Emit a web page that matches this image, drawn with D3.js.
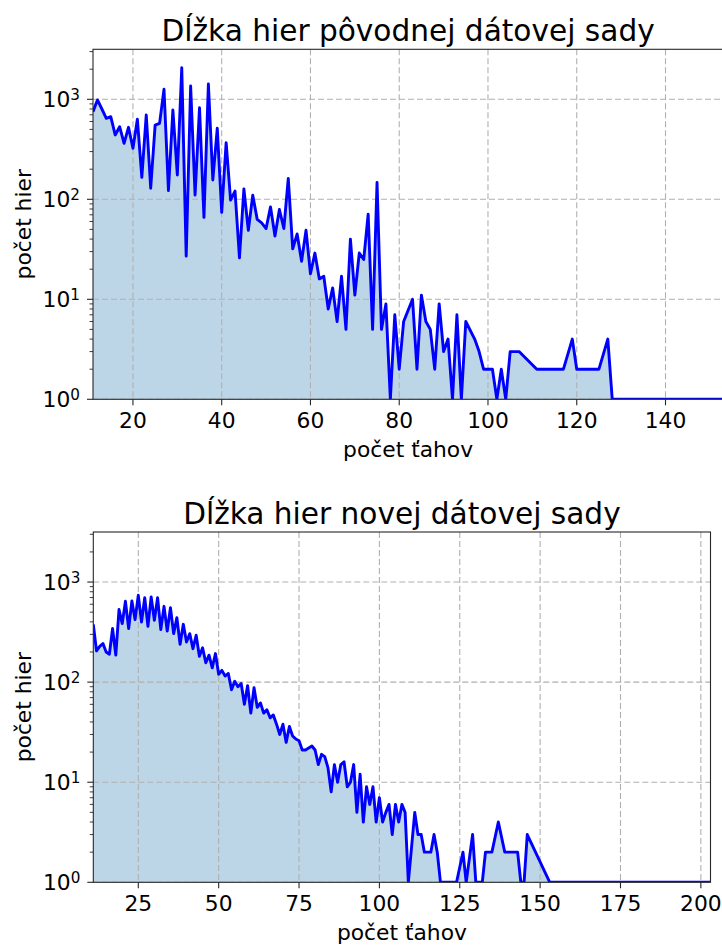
<!DOCTYPE html>
<html>
<head>
<meta charset="utf-8">
<script src="https://cdn.jsdelivr.net/npm/d3@7"></script>
<style>
  body { margin: 0; background: #fff; }
  svg { display: block; font-family: "DejaVu Sans", sans-serif; }
</style>
</head>
<body>
<div id="chart"></div>
<script>
// game length (number of moves) -> number of games
const origLengths = [11, 12, 13, 14, 15, 16, 17, 18, 19, 20, 21, 22, 23, 24, 25, 26, 27, 28, 29, 30,
  31, 32, 33, 34, 35, 36, 37, 38, 39, 40, 41, 42, 43, 44, 45, 46, 47, 48, 49, 50,
  51, 52, 53, 54, 55, 56, 57, 58, 59, 60, 61, 62, 63, 64, 65, 66, 67, 68, 69, 70,
  71, 72, 73, 74, 75, 76, 77, 78, 79, 80, 81, 83, 84, 85, 86, 87, 88, 89, 90, 91,
  92, 93, 94, 95, 97, 98, 99, 100, 101, 102, 103, 104, 105, 106, 107, 111, 117, 119, 120, 125,
  127, 128, 153];
const origCounts = [752, 985, 800, 646, 670, 440, 532, 363, 525, 324, 631, 166, 697, 129, 553, 575, 1260, 122, 782, 175,
  2070, 27, 1358, 110, 824, 66, 1422, 156, 513, 74, 368, 98, 121, 26, 127, 49, 110, 63, 58, 51,
  84, 43, 79, 51, 162, 32, 45, 24, 49, 18, 29, 16, 17, 8, 13, 6, 17, 5, 40, 11,
  29, 25, 71, 5, 147, 5, 9, 1, 7, 2, 6, 10, 2, 11, 6, 5, 2, 9, 3, 4,
  1, 7, 1, 6, 4, 3, 2, 2, 2, 1, 2, 1, 3, 3, 3, 2, 2, 4, 2, 2,
  4, 1, 1];

const newLengths = [11, 12, 13, 14, 15, 16, 17, 18, 19, 20, 21, 22, 23, 24, 25, 26, 27, 28, 29, 30,
  31, 32, 33, 34, 35, 36, 37, 38, 39, 40, 41, 42, 43, 44, 45, 46, 47, 48, 49, 50,
  51, 52, 53, 54, 55, 56, 57, 58, 59, 60, 61, 62, 63, 64, 65, 66, 67, 68, 69, 70,
  71, 72, 73, 74, 75, 76, 77, 78, 79, 80, 81, 82, 83, 84, 85, 86, 87, 88, 89, 90,
  91, 92, 93, 94, 95, 96, 97, 98, 99, 100, 101, 102, 103, 104, 105, 106, 107, 108, 109, 111,
  112, 113, 114, 116, 117, 118, 119, 124, 126, 127, 129, 130, 132, 133, 135, 137, 139, 143, 144, 145,
  146, 153, 171, 203];
const newCounts = [378, 205, 228, 243, 200, 190, 343, 186, 531, 384, 642, 343, 647, 421, 737, 399, 699, 361, 709, 415,
  699, 335, 572, 324, 555, 305, 441, 239, 378, 252, 305, 216, 294, 181, 220, 156, 186, 139, 193, 120,
  131, 115, 122, 84, 102, 90, 97, 60, 92, 49, 88, 56, 62, 49, 53, 44, 47, 38, 30, 38,
  25, 36, 29, 27, 26, 21, 21, 22, 23, 21, 15, 19, 18, 14, 8, 15, 10, 15, 16, 9,
  10, 15, 5, 12, 4, 9, 6, 9, 4, 7, 4, 5, 6, 3, 6, 4, 6, 5, 1, 5,
  3, 3, 2, 2, 3, 2, 1, 1, 2, 1, 3, 1, 1, 2, 2, 4, 2, 2, 1, 1,
  3, 1, 1, 1];

const origTicks = [20, 40, 60, 80, 100, 120, 140];
const newTicks = [25, 50, 75, 100, 125, 150, 175, 200];
const yTicks = [1, 10, 100, 1000];
const yExps = ["0", "1", "2", "3"];

const svg = d3.select("#chart").append("svg")
  .attr("width", 722)
  .attr("height", 945);

function drawPanel(cfg) {
  const { id, title, lengths, counts, ticks, xDomain, box } = cfg;
  const data = lengths.map((len, i) => ({ len: len, count: counts[i] }));

  const x = d3.scaleLinear().domain(xDomain).range([box.left, box.right]);
  const y = d3.scaleLog().domain([1, Math.pow(10, 3.5)]).range([box.bottom, box.top]).clamp(true);

  const g = svg.append("g");

  g.append("clipPath").attr("id", "clip-" + id)
    .append("rect")
    .attr("x", box.left).attr("y", box.top)
    .attr("width", box.right - box.left).attr("height", box.bottom - box.top);

  const plot = g.append("g").attr("clip-path", `url(#clip-${id})`);

  // filled area under the curve
  const area = d3.area()
    .x(d => x(d.len))
    .y0(y(1))
    .y1(d => y(d.count));
  plot.append("path").datum(data)
    .attr("d", area)
    .attr("fill", "#bcd6e7");

  // dashed grid
  plot.selectAll(".vgrid").data(ticks).enter().append("line")
    .attr("x1", d => x(d)).attr("x2", d => x(d))
    .attr("y1", box.top).attr("y2", box.bottom)
    .attr("stroke", "#b0b0b0").attr("stroke-width", 1.1)
    .attr("stroke-dasharray", "6,3");
  plot.selectAll(".hgrid").data(yTicks).enter().append("line")
    .attr("x1", box.left).attr("x2", box.right)
    .attr("y1", d => y(d)).attr("y2", d => y(d))
    .attr("stroke", "#b0b0b0").attr("stroke-width", 1.1)
    .attr("stroke-dasharray", "6,3");

  // the line itself
  const line = d3.line()
    .x(d => x(d.len))
    .y(d => y(d.count));
  plot.append("path").datum(data)
    .attr("d", line)
    .attr("fill", "none")
    .attr("stroke", "#0000ff")
    .attr("stroke-width", 2.9)
    .attr("stroke-linejoin", "round");

  // spines
  g.append("rect")
    .attr("x", box.left).attr("y", box.top)
    .attr("width", box.right - box.left).attr("height", box.bottom - box.top)
    .attr("fill", "none").attr("stroke", "#262626").attr("stroke-width", 1.1);

  // x ticks
  g.selectAll(".xtick").data(ticks).enter().append("line")
    .attr("x1", d => x(d)).attr("x2", d => x(d))
    .attr("y1", box.bottom).attr("y2", box.bottom + 6)
    .attr("stroke", "#262626").attr("stroke-width", 1.1);
  g.selectAll(".xlabel").data(ticks).enter().append("text")
    .attr("x", d => x(d)).attr("y", box.bottom + 29)
    .attr("text-anchor", "middle")
    .attr("font-size", 21.8)
    .attr("fill", "#000")
    .text(d => d);

  // y ticks (major + minor)
  const minor = [];
  yTicks.forEach(d => { for (let k = 2; k <= 9; k++) if (d * k <= Math.pow(10, 3.5)) minor.push(d * k); });
  g.selectAll(".ymin").data(minor).enter().append("line")
    .attr("x1", box.left - 3.5).attr("x2", box.left)
    .attr("y1", d => y(d)).attr("y2", d => y(d))
    .attr("stroke", "#262626").attr("stroke-width", 0.9);
  g.selectAll(".ymaj").data(yTicks).enter().append("line")
    .attr("x1", box.left - 6).attr("x2", box.left)
    .attr("y1", d => y(d)).attr("y2", d => y(d))
    .attr("stroke", "#262626").attr("stroke-width", 1.1);
  const yl = g.selectAll(".ylab").data(yTicks).enter().append("text")
    .attr("x", box.left - 13).attr("y", d => y(d) + 8)
    .attr("text-anchor", "end")
    .attr("font-size", 21.8)
    .attr("fill", "#000");
  yl.append("tspan").text("10");
  yl.append("tspan").attr("dy", -7).attr("font-size", 15.2).text((d, i) => yExps[i]);

  // titles
  const cx = (box.left + box.right) / 2;
  g.append("text")
    .attr("x", cx).attr("y", box.top - 8.5)
    .attr("text-anchor", "middle")
    .attr("font-size", 29.6)
    .text(title);
  g.append("text")
    .attr("x", cx).attr("y", box.bottom + 57.5)
    .attr("text-anchor", "middle")
    .attr("font-size", 21.8)
    .text("počet ťahov");
  g.append("text")
    .attr("transform", `translate(31,${(box.top + box.bottom) / 2}) rotate(-90)`)
    .attr("text-anchor", "middle")
    .attr("font-size", 21.8)
    .text("počet hier");
}

drawPanel({
  id: "orig",
  title: "Dĺžka hier pôvodnej dátovej sady",
  lengths: origLengths,
  counts: origCounts,
  ticks: origTicks,
  xDomain: [11, 153],
  box: { left: 93, right: 723.2, top: 49.3, bottom: 399.3 }
});

drawPanel({
  id: "new",
  title: "Dĺžka hier novej dátovej sady",
  lengths: newLengths,
  counts: newCounts,
  ticks: newTicks,
  xDomain: [11, 203],
  box: { left: 93.3, right: 710.5, top: 532, bottom: 882.3 }
});
</script>
</body>
</html>
